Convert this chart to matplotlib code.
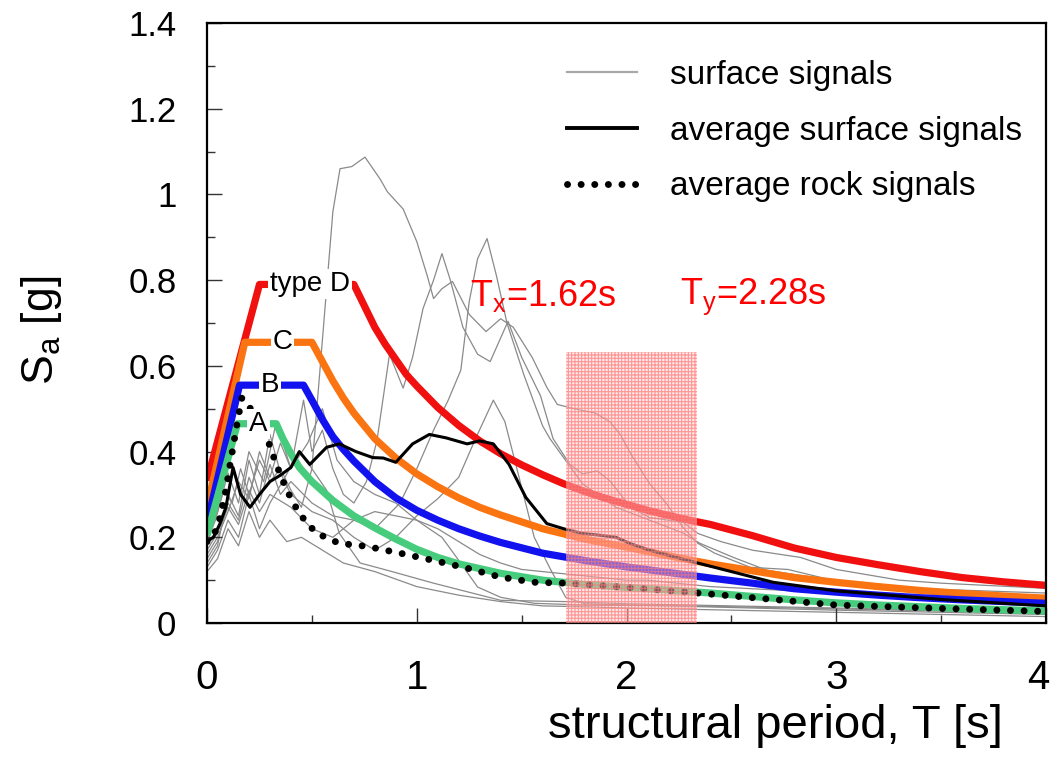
import matplotlib
matplotlib.use("Agg")
import matplotlib.pyplot as plt
import matplotlib.transforms as mtransforms
from matplotlib.lines import Line2D
from matplotlib.ticker import MultipleLocator, FormatStrFormatter

plt.rcParams['font.family'] = ['Liberation Sans', 'DejaVu Sans']
plt.rcParams['mathtext.fontset'] = 'custom'
plt.rcParams['mathtext.rm'] = 'Liberation Sans'
plt.rcParams['hatch.linewidth'] = 0.8

# === design spectra
t_d = [0, 0.25, 0.70, 0.75, 0.80, 0.85, 0.90, 0.95, 1.0, 1.1, 1.2, 1.3, 1.4, 1.5, 1.6, 1.7, 1.8, 1.9,
       2.0, 2.1, 2.2, 2.3, 2.4, 2.6, 2.8, 3.0, 3.2, 3.4, 3.6, 3.8, 4.0]
sa_d = [0.332, 0.79, 0.79, 0.74, 0.69, 0.65, 0.615, 0.58, 0.553, 0.503, 0.461, 0.425, 0.395, 0.369,
        0.346, 0.325, 0.307, 0.291, 0.277, 0.263, 0.251, 0.240, 0.230, 0.204, 0.175, 0.153, 0.136,
        0.120, 0.106, 0.096, 0.088]

t_c = [0, 0.18, 0.50, 0.55, 0.6, 0.65, 0.7, 0.8, 0.9, 1.0, 1.1, 1.2, 1.3, 1.4, 1.6, 1.8, 2.0, 2.2,
       2.4, 2.6, 2.8, 3.0, 3.2, 3.4, 3.6, 3.8, 4.0]
sa_c = [0.27, 0.655, 0.655, 0.61, 0.565, 0.525, 0.49, 0.43, 0.385, 0.348, 0.318, 0.292, 0.27, 0.252,
        0.22, 0.196, 0.177, 0.157, 0.138, 0.122, 0.106, 0.095, 0.085, 0.076, 0.069, 0.063, 0.058]

t_b = [0, 0.155, 0.46, 0.5, 0.55, 0.6, 0.65, 0.7, 0.8, 0.9, 1.0, 1.1, 1.2, 1.3, 1.4, 1.6, 1.8, 2.0,
       2.2, 2.4, 2.6, 2.8, 3.0, 3.2, 3.4, 3.6, 3.8, 4.0]
sa_b = [0.232, 0.555, 0.555, 0.52, 0.475, 0.435, 0.405, 0.378, 0.33, 0.292, 0.263, 0.24, 0.22, 0.203,
        0.188, 0.163, 0.146, 0.131, 0.118, 0.105, 0.093, 0.08, 0.072, 0.065, 0.059, 0.054, 0.05, 0.046]

t_a = [0, 0.145, 0.33, 0.36, 0.4, 0.44, 0.5, 0.6, 0.7, 0.8, 0.9, 1.0, 1.1, 1.2, 1.4, 1.6, 1.8, 2.0,
       2.2, 2.4, 2.6, 2.8, 3.0, 3.2, 3.4, 3.6, 3.8, 4.0]
sa_a = [0.205, 0.465, 0.465, 0.432, 0.395, 0.363, 0.33, 0.286, 0.25, 0.222, 0.196, 0.172, 0.153,
        0.138, 0.116, 0.1, 0.09, 0.083, 0.077, 0.07, 0.062, 0.054, 0.047, 0.042, 0.038, 0.034,
        0.031, 0.028]

# === averages
t_rock = [0, 0.03, 0.062, 0.09, 0.11, 0.143, 0.166, 0.196, 0.24, 0.286, 0.33, 0.38, 0.44, 0.52,
          0.63, 0.76, 0.92, 1.08, 1.24, 1.40, 1.56, 1.71, 2.0, 2.34, 2.7, 3.0, 3.5, 4.0]
sa_rock = [0.19, 0.2, 0.246, 0.31, 0.37, 0.465, 0.525, 0.51, 0.47, 0.432, 0.37, 0.31, 0.255, 0.21,
           0.186, 0.179, 0.163, 0.146, 0.128, 0.107, 0.095, 0.093, 0.083, 0.07, 0.055, 0.042,
           0.034, 0.027]

t_avg = [0, 0.03, 0.06, 0.09, 0.124, 0.16, 0.205, 0.25, 0.3, 0.35, 0.40, 0.44, 0.49, 0.53, 0.57,
         0.63, 0.71, 0.79, 0.84, 0.90, 0.98, 1.06, 1.14, 1.24, 1.30, 1.365, 1.44, 1.52, 1.62, 1.7,
         1.79, 1.87, 1.95, 2.02, 2.11, 2.2, 2.34, 2.5, 2.7, 3.0, 3.5, 4.0]
sa_avg = [0.19, 0.2, 0.23, 0.27, 0.363, 0.3, 0.27, 0.3, 0.33, 0.345, 0.363, 0.40, 0.37, 0.39, 0.41,
          0.418, 0.40, 0.386, 0.385, 0.375, 0.418, 0.44, 0.432, 0.418, 0.425, 0.418, 0.37, 0.293,
          0.232, 0.22, 0.209, 0.205, 0.2, 0.185, 0.17, 0.158, 0.14, 0.12, 0.095, 0.075, 0.055, 0.04]

# === individual surface signals
t_s1 = [0, 0.04, 0.08, 0.12, 0.16, 0.2, 0.25, 0.3, 0.35, 0.4, 0.45, 0.5, 0.55, 0.6, 0.634, 0.69,
        0.753, 0.825, 0.86, 0.935, 1.0, 1.05, 1.08, 1.12, 1.17, 1.25, 1.33, 1.40, 1.46, 1.55, 1.62,
        1.67, 1.75, 1.85, 1.92, 1.97, 2.02, 2.11, 2.19, 2.27, 2.34, 2.42, 2.59, 2.77, 2.98, 3.3,
        3.6, 4.0]
sa_s1 = [0.19, 0.24, 0.31, 0.28, 0.36, 0.3, 0.38, 0.33, 0.36, 0.31, 0.27, 0.36, 0.66, 0.96, 1.06,
         1.065, 1.087, 1.036, 1.006, 0.966, 0.89, 0.81, 0.757, 0.78, 0.797, 0.72, 0.68, 0.71, 0.69,
         0.62, 0.55, 0.51, 0.50, 0.49, 0.47, 0.44, 0.395, 0.325, 0.279, 0.223, 0.186, 0.163, 0.13,
         0.125, 0.10, 0.08, 0.07, 0.06]

t_s2 = [0, 0.05, 0.1, 0.15, 0.2, 0.25, 0.3, 0.35, 0.4, 0.46, 0.5, 0.55, 0.6, 0.65, 0.7, 0.76, 0.81,
        0.87, 0.935, 0.98, 1.03, 1.08, 1.12, 1.16, 1.22, 1.29, 1.35, 1.435, 1.5, 1.59, 1.65, 1.73,
        1.79, 1.86, 1.92, 2.02, 2.11, 2.27, 2.34, 2.45, 2.6, 2.83, 3.0, 3.3, 3.5, 3.75, 4.0]
sa_s2 = [0.16, 0.2, 0.26, 0.33, 0.29, 0.4, 0.34, 0.42, 0.36, 0.52, 0.4, 0.45, 0.36, 0.3, 0.28, 0.33,
         0.425, 0.627, 0.548, 0.62, 0.734, 0.80, 0.862, 0.80, 0.69, 0.627, 0.61, 0.704, 0.62, 0.53,
         0.43, 0.37, 0.348, 0.355, 0.332, 0.27, 0.246, 0.235, 0.209, 0.19, 0.17, 0.153, 0.125, 0.1,
         0.093, 0.087, 0.081]

t_s3 = [0, 0.05, 0.1, 0.15, 0.2, 0.25, 0.3, 0.4, 0.5, 0.6, 0.7, 0.8, 0.92, 1.0, 1.08, 1.15, 1.21,
        1.25, 1.29, 1.335, 1.38, 1.43, 1.51, 1.6, 1.635, 1.79, 1.95, 2.11, 2.27, 2.35, 2.51, 2.67,
        2.98, 3.4, 4.0]
sa_s3 = [0.17, 0.21, 0.27, 0.23, 0.31, 0.26, 0.3, 0.27, 0.22, 0.2, 0.24, 0.22, 0.28, 0.36, 0.45,
         0.52, 0.59, 0.75, 0.85, 0.897, 0.81, 0.70, 0.58, 0.46, 0.43, 0.325, 0.27, 0.24, 0.21, 0.186,
         0.153, 0.123, 0.10, 0.08, 0.07]

t_s4 = [0, 0.05, 0.1, 0.15, 0.2, 0.25, 0.3, 0.35, 0.4, 0.5, 0.6, 0.7, 0.8, 0.9, 1.0, 1.1, 1.2,
        1.28, 1.365, 1.42, 1.48, 1.56, 1.64, 1.71, 1.8, 2.0, 2.5, 3.0, 3.5, 4.0]
sa_s4 = [0.14, 0.18, 0.3, 0.25, 0.38, 0.3, 0.44, 0.35, 0.3, 0.26, 0.24, 0.2, 0.17, 0.2, 0.25, 0.29,
         0.34, 0.43, 0.52, 0.47, 0.355, 0.2, 0.123, 0.06, 0.045, 0.042, 0.038, 0.033, 0.028, 0.022]

t_s5 = [0, 0.05, 0.1, 0.15, 0.2, 0.25, 0.3, 0.36, 0.44, 0.5, 0.57, 0.63, 0.73, 0.86, 1.08, 1.4,
        1.71, 2.0, 2.5, 3.0, 3.5, 4.0]
sa_s5 = [0.13, 0.17, 0.24, 0.2, 0.3, 0.22, 0.28, 0.33, 0.40, 0.36, 0.31, 0.21, 0.14, 0.123, 0.093,
         0.053, 0.05, 0.045, 0.04, 0.035, 0.03, 0.025]

t_s6 = [0, 0.05, 0.1, 0.15, 0.2, 0.27, 0.33, 0.4, 0.48, 0.55, 0.62, 0.7, 0.8, 0.9, 1.0, 1.1, 1.2,
        1.3, 1.4, 1.5, 1.6, 1.7, 1.8, 1.9, 2.0, 2.1, 2.2, 2.4, 2.6, 2.8, 3.0, 3.5, 4.0]
sa_s6 = [0.2, 0.26, 0.35, 0.28, 0.4, 0.33, 0.47, 0.36, 0.42, 0.5, 0.38, 0.33, 0.3, 0.28, 0.24, 0.22,
         0.19, 0.16, 0.14, 0.125, 0.12, 0.115, 0.11, 0.105, 0.1, 0.1, 0.095, 0.085, 0.08, 0.075,
         0.07, 0.06, 0.05]

t_s7 = [0, 0.05, 0.1, 0.15, 0.2, 0.25, 0.3, 0.38, 0.45, 0.55, 0.65, 0.8, 1.0, 1.2, 1.4, 1.6, 1.8,
        2.0, 2.5, 3.0, 3.5, 4.0]
sa_s7 = [0.12, 0.15, 0.22, 0.18, 0.26, 0.2, 0.24, 0.19, 0.2, 0.17, 0.14, 0.12, 0.085, 0.065, 0.05,
         0.04, 0.038, 0.035, 0.03, 0.025, 0.02, 0.015]

t_s8 = [0, 0.05, 0.1, 0.15, 0.2, 0.25, 0.3, 0.35, 0.4, 0.5, 0.6, 0.7, 0.8, 0.9, 1.0, 1.05, 1.12,
        1.19, 1.29, 1.4, 1.56, 1.8, 2.2, 2.6, 3.0, 3.5, 4.0]
sa_s8 = [0.15, 0.19, 0.28, 0.24, 0.34, 0.28, 0.37, 0.3, 0.33, 0.28, 0.25, 0.24, 0.26, 0.25, 0.24,
         0.223, 0.2, 0.153, 0.084, 0.06, 0.046, 0.042, 0.04, 0.035, 0.03, 0.025, 0.02]

surface_t = [t_s1, t_s2, t_s3, t_s4, t_s5, t_s6, t_s7, t_s8]
surface_sa = [sa_s1, sa_s2, sa_s3, sa_s4, sa_s5, sa_s6, sa_s7, sa_s8]

# === periods window
shade_t0, shade_t1, shade_top = 1.71, 2.336, 0.632

fig = plt.figure(figsize=(10.52, 7.61), dpi=100)
ax = fig.add_axes([0.1968, 0.1813, 0.7975, 0.7885])

for ts, ss in zip(surface_t, surface_sa):
    ax.plot(ts, ss, color="#8a8a8a", lw=0.9, zorder=1)

ax.plot(t_d, sa_d, color="#f01010", lw=5.2, solid_capstyle="butt", zorder=2)
ax.plot(t_c, sa_c, color="#fb7412", lw=5.2, solid_capstyle="butt", zorder=2)
ax.plot(t_b, sa_b, color="#1212ee", lw=5.2, solid_capstyle="butt", zorder=2)
ax.plot(t_a, sa_a, color="#46cc7c", lw=5.2, solid_capstyle="butt", zorder=2)

ax.plot(t_avg, sa_avg, color="black", lw=2.2, zorder=3)
ax.plot(t_rock, sa_rock, color="black", lw=5, linestyle=(0, (0.01, 1.95)),
        dash_capstyle="round", zorder=4)

ax.fill_between([shade_t0, shade_t1], 0, shade_top, facecolor=(1, 0.82, 0.82, 0.45),
                edgecolor=(1, 0.45, 0.45, 0.7), hatch="+++++", linewidth=0, zorder=5)

box = dict(facecolor="white", edgecolor="none", pad=1.5)
ax.text(0.49, 0.79, "type D", fontsize=20, ha="center", va="center", bbox=box, zorder=6)
ax.text(0.36, 0.655, "C", fontsize=20, ha="center", va="center", bbox=box, zorder=6)
ax.text(0.30, 0.555, "B", fontsize=20, ha="center", va="center", bbox=box, zorder=6)
ax.text(0.245, 0.465, "A", fontsize=20, ha="center", va="center", bbox=box, zorder=6)

ax.text(1.254, 0.762, r"T$_\mathregular{x}$=1.62s", color="red", fontsize=26,
        ha="left", va="center", zorder=7)
ax.text(2.255, 0.762, r"T$_\mathregular{y}$=2.28s", color="red", fontsize=26,
        ha="left", va="center", zorder=7)

ax.set_xlim(0, 4)
ax.set_ylim(0, 1.4)
ax.xaxis.set_major_locator(MultipleLocator(1))
ax.xaxis.set_minor_locator(MultipleLocator(0.5))
ax.yaxis.set_major_locator(MultipleLocator(0.2))
ax.yaxis.set_minor_locator(MultipleLocator(0.1))
ax.yaxis.set_major_formatter(FormatStrFormatter("%g"))
ax.xaxis.set_major_formatter(FormatStrFormatter("%g"))
ax.tick_params(which="both", direction="in", top=False, right=False, color="#333333", width=1)
ax.tick_params(which="major", length=11)
ax.tick_params(which="minor", length=6)
ax.tick_params(axis="y", which="major", labelsize=25, pad=22)
ax.tick_params(axis="x", which="major", labelsize=29, pad=26)
for sp in ax.spines.values():
    sp.set_linewidth(1.6)

ax.set_xlabel("structural period, T [s]", fontsize=34)
ax.xaxis.set_label_coords(0.677, -0.135)
ax.set_ylabel(r"S$_\mathregular{a}$ [g]", fontsize=32)
ax.yaxis.set_label_coords(-0.17, 0.488)

handles = [Line2D([], [], color="#a8a8a8", lw=1.6),
           Line2D([], [], color="black", lw=2.8),
           Line2D([], [], color="black", lw=5, linestyle=(0, (0.01, 1.95)), dash_capstyle="round")]
labels = ["surface signals", "average surface signals", "average rock signals"]
fig.legend(handles, labels, loc="upper left", bbox_to_anchor=(0.539, 0.921),
           bbox_transform=fig.transFigure, frameon=False, fontsize=24, handlelength=2.1,
           handletextpad=1.0, labelspacing=0.74, borderpad=0, borderaxespad=0)

# the "4" label sits on the figure edge, keep it just inside
fig.canvas.draw()
for lab in ax.get_xticklabels():
    if lab.get_text() == "4":
        lab.set_horizontalalignment("right")
        lab.set_transform(lab.get_transform() +
                          mtransforms.ScaledTranslation(3 / 100, 0, fig.dpi_scale_trans))

fig.savefig("out.png", dpi=100)
